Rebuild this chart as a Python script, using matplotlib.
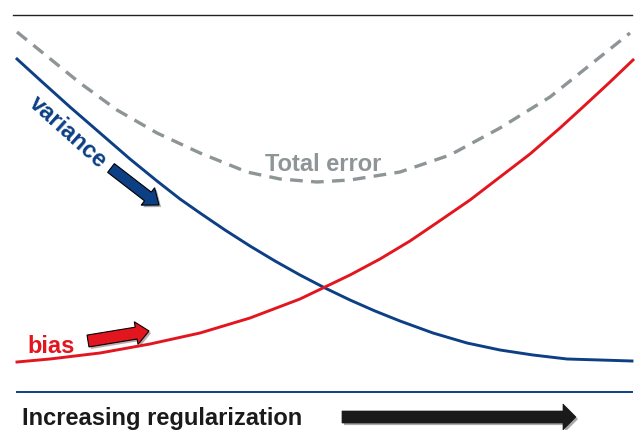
import matplotlib.pyplot as plt
import matplotlib.patheffects as pe

plt.rcParams['font.family'] = ['Liberation Sans', 'DejaVu Sans']

# curves (x in px, y in px from top)
var_x = [17, 40, 70, 100, 130, 157, 180, 200, 225, 250, 275, 300, 325, 350,
         375, 400, 433, 467, 500, 533, 567, 600, 632]
var_y = [59, 80, 107, 133, 159, 181, 199, 213, 230, 246, 261, 275, 288, 300,
         311, 321, 333, 343, 350, 355, 359, 360, 361]

bias_x = [17, 50, 100, 150, 200, 250, 300, 325, 350, 380, 410, 438, 470, 500,
          530, 560, 583, 610, 633]
bias_y = [362, 359, 353, 344, 333, 318, 299, 287, 275, 259, 241, 222, 200, 177,
          154, 128, 107, 82, 60]

tot_x = [17, 43, 80, 117, 157, 200, 247, 280, 317, 350, 400, 450, 500, 550, 600, 630]
tot_y = [32, 53, 83, 110, 133, 153, 172, 179, 182, 180, 172, 155, 128, 97, 57, 33]

blue = '#0d3f85'
red = '#e3161f'
gray = '#8d9597'

fig = plt.figure(figsize=(6.35, 4.3), dpi=100)
ax = fig.add_axes([0, 0, 1, 1])
ax.set_xlim(0, 635)
ax.set_ylim(430, 0)
ax.axis('off')

# frame lines
ax.plot([13, 632], [15, 15], color='#222222', lw=1.0)
ax.plot([17, 632], [392, 392], color=blue, lw=1.4)

ax.plot(tot_x, tot_y, color=gray, lw=2.4, dashes=(3.8, 2.5), dash_capstyle='butt',
        dash_joinstyle='round')
ax.plot(var_x, var_y, color=blue, lw=2.1, solid_joinstyle='round')
ax.plot(bias_x, bias_y, color=red, lw=2.1, solid_joinstyle='round')

shadow = [pe.SimplePatchShadow(offset=(1.5, -1.5), alpha=0.35), pe.Normal()]

# little arrows
a1 = ax.arrow(111, 168, 48, 37, width=11, head_width=22, head_length=14,
              length_includes_head=True, fc=blue, ec='black', lw=0.8)
a1.set_path_effects(shadow)
a2 = ax.arrow(88, 341, 61, -10, width=12, head_width=23, head_length=13,
              length_includes_head=True, fc=red, ec='black', lw=0.8)
a2.set_path_effects(shadow)
a3 = ax.arrow(342, 417, 234, 0, width=12, head_width=26, head_length=13,
              length_includes_head=True, fc='#1a1a1a', ec='#1a1a1a', lw=0.5)
a3.set_path_effects(shadow)

# labels
ax.text(68, 132, 'variance', color=blue, fontsize=17, fontweight='bold',
        rotation=-42, ha='center', va='center', rotation_mode='anchor')
ax.text(323, 171, 'Total error', color=gray, fontsize=17, fontweight='bold',
        ha='center', va='baseline')
ax.text(27, 353, 'bias', color=red, fontsize=17, fontweight='bold',
        ha='left', va='baseline')
ax.text(22, 425, 'Increasing regularization', color='#1a1a1a', fontsize=17,
        fontweight='bold', ha='left', va='baseline')

fig.savefig('out.png', dpi=100)
